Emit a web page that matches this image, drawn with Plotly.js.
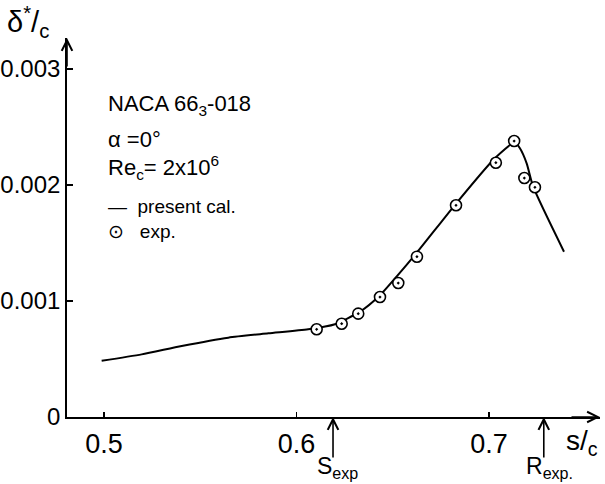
<!DOCTYPE html>
<html>
<head>
<meta charset="utf-8">
<script src="https://cdn.plot.ly/plotly-3.0.1.min.js"></script>
<style>html,body{margin:0;padding:0;background:#fff;}#chart{width:605px;height:484px;}</style>
</head>
<body>
<div id="chart"></div>
<script>
// Calculated displacement thickness (present calculation)
const calcS = [0.4988, 0.5196, 0.5404, 0.5646, 0.5854, 0.6061, 0.6200, 0.6330, 0.6434, 0.6520, 0.6624, 0.6829, 0.7022, 0.7109, 0.7132, 0.7161, 0.7196, 0.7230, 0.7390];
const calcD = [0.000485, 0.000540, 0.000612, 0.000684, 0.000721, 0.000756, 0.000800, 0.000908, 0.001050, 0.001210, 0.001414, 0.001840, 0.002216, 0.002345, 0.002373, 0.002316, 0.002187, 0.001985, 0.001425];
// Experimental points
const expS = [0.6105, 0.6235, 0.6321, 0.6434, 0.6529, 0.6626, 0.6829, 0.7036, 0.7131, 0.7184, 0.7239];
const expD = [0.000756, 0.000804, 0.000891, 0.001034, 0.001155, 0.001382, 0.001825, 0.002192, 0.002379, 0.002060, 0.001980];
// Axis ticks
const xTicks = [0.5, 0.6, 0.7];
const xTickText = ['0.5', '0.6', '0.7'];
const yTicks = [0, 0.001, 0.002, 0.003];
const yTickText = ['0', '0.001', '0.002', '0.003'];
// Marked positions
const sExp = 0.619;
const rExp = 0.7285;

const xRange = [0.4808, 0.7577];
const yRange = [0, 0.003267];
const FONT = '"Liberation Sans Narrow", "Liberation Sans", Arial, sans-serif';

const traces = [
  {x: calcS, y: calcD, type: 'scatter', mode: 'lines', name: 'present cal.',
   line: {color: '#000', width: 2, shape: 'spline', smoothing: 0.6}, showlegend: false},
  {x: expS, y: expD, type: 'scatter', mode: 'markers', name: 'exp.',
   marker: {symbol: 'circle-dot', size: 11, color: '#fff', line: {color: '#000', width: 1.6}}, showlegend: false}
];

const arrowStyle = {showarrow: true, arrowhead: 5, arrowsize: 1.3, arrowwidth: 1.6, arrowcolor: '#000', text: ''};
const ann = [
  // axis arrows
  Object.assign({x: xRange[1], y: 0, ax: -30, ay: 0, xref: 'x', yref: 'y'}, arrowStyle),
  Object.assign({x: xRange[0], y: yRange[1], ax: 0, ay: 30, xref: 'x', yref: 'y'}, arrowStyle),
  // S_exp and R_exp arrows
  Object.assign({x: sExp, y: 0, ax: 0, ay: 42, xref: 'x', yref: 'y'}, arrowStyle),
  Object.assign({x: rExp, y: 0, ax: 0, ay: 42, xref: 'x', yref: 'y'}, arrowStyle),
  {x: sExp, y: 0, xref: 'x', yref: 'y', yshift: -50, xshift: 4, showarrow: false, xanchor: 'center', yanchor: 'middle',
   text: 'S<sub>exp</sub>', font: {family: FONT, size: 23, color: '#000'}},
  {x: rExp, y: 0, xref: 'x', yref: 'y', yshift: -50, xshift: 6, showarrow: false, xanchor: 'center', yanchor: 'middle',
   text: 'R<sub>exp.</sub>', font: {family: FONT, size: 23, color: '#000'}},
  // axis titles
  {x: 0, y: 1, xref: 'paper', yref: 'paper', xshift: -62, yshift: 38, showarrow: false, xanchor: 'left', yanchor: 'top',
   text: 'δ<sup>*</sup>/<sub>c</sub>', font: {family: FONT, size: 29, color: '#000'}},
  {x: 1, y: 0, xref: 'paper', yref: 'paper', xshift: 0, yshift: -6, showarrow: false, xanchor: 'right', yanchor: 'top',
   text: 's/<sub>c</sub>', font: {family: FONT, size: 28, color: '#000'}}
];
const legendLines = [
  {t: 'NACA 66<sub>3</sub>-018', y: 105, s: 22},
  {t: 'α =0°', y: 139, s: 22},
  {t: 'Re<sub>c</sub>= 2x10<sup>6</sup>', y: 167, s: 22},
  {t: '—  present cal.', y: 207, s: 19},
  {t: '⊙   exp.', y: 231, s: 19}
];
// legend block placed in pixel positions, converted to paper coordinates
const L = 67, R = 5, T = 38, B = 67, W = 605, H = 484;
legendLines.forEach(l => ann.push({x: (106 - L) / (W - L - R), y: 1 - (l.y - T) / (H - T - B), xref: 'paper', yref: 'paper', showarrow: false,
  xanchor: 'left', yanchor: 'middle', text: l.t, font: {family: FONT, size: l.s, color: '#000'}}));

const layout = {
  width: W, height: H,
  margin: {l: L, r: R, t: T, b: B},
  paper_bgcolor: '#fff', plot_bgcolor: '#fff',
  showlegend: false,
  font: {family: FONT, color: '#000'},
  xaxis: {range: xRange, tickvals: xTicks, ticktext: xTickText, ticks: 'inside', ticklen: 5, tickwidth: 1.2, tickcolor: '#000',
    showline: true, linecolor: '#000', linewidth: 1.8, showgrid: false, zeroline: false,
    tickfont: {family: FONT, size: 27, color: '#000'}, ticklabelstandoff: 2},
  yaxis: {range: yRange, tickvals: yTicks, ticktext: yTickText, ticks: 'inside', ticklen: 6, tickwidth: 1.2, tickcolor: '#000',
    showline: true, linecolor: '#000', linewidth: 1.8, showgrid: false, zeroline: false,
    tickfont: {family: FONT, size: 24, color: '#000'}, ticklabelstandoff: 0},
  annotations: ann
};
Plotly.newPlot('chart', traces, layout, {displayModeBar: false, staticPlot: true});
</script>
</body>
</html>
